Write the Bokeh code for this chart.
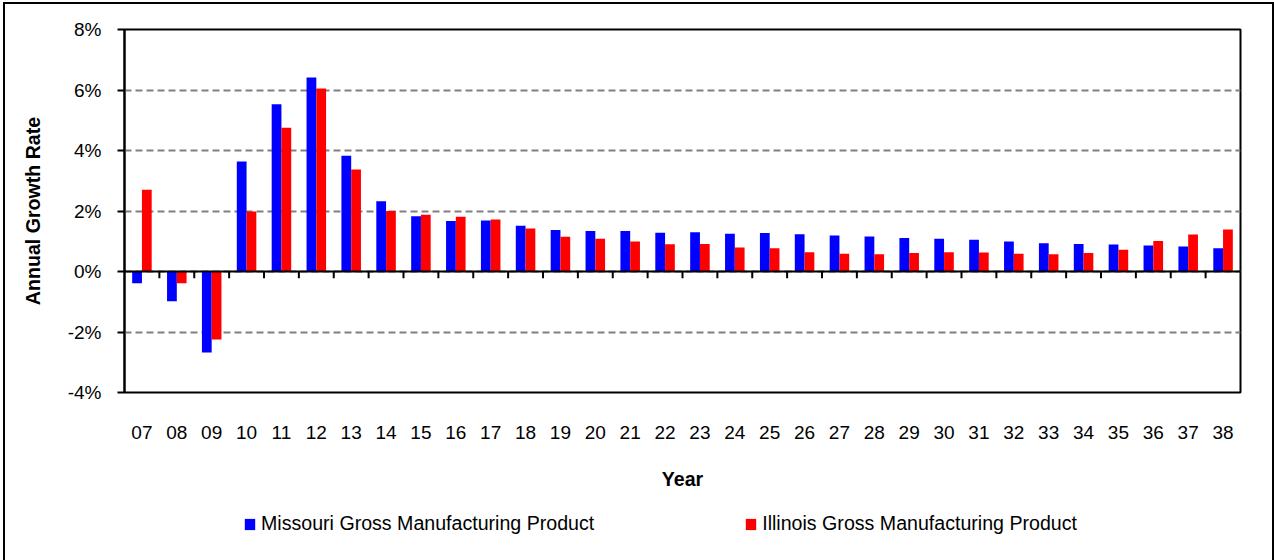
from bokeh.plotting import figure
from bokeh.layouts import column
from bokeh.models import (FactorRange, Range1d, FixedTicker, PrintfTickFormatter,
                          Span, Legend, LegendItem, ColumnDataSource)
from bokeh.transform import dodge
from bokeh.embed import file_html
from bokeh.resources import INLINE

years = ["07", "08", "09", "10", "11", "12", "13", "14", "15", "16", "17", "18", "19",
         "20", "21", "22", "23", "24", "25", "26", "27", "28", "29", "30", "31", "32",
         "33", "34", "35", "36", "37", "38"]
missouri = [-0.39, -0.98, -2.68, 3.64, 5.53, 6.41, 3.83, 2.32, 1.83, 1.67, 1.69, 1.51,
            1.37, 1.34, 1.34, 1.28, 1.30, 1.25, 1.27, 1.23, 1.19, 1.16, 1.11, 1.08,
            1.05, 0.99, 0.93, 0.91, 0.89, 0.86, 0.83, 0.77]
illinois = [2.70, -0.39, -2.25, 1.98, 4.75, 6.05, 3.37, 2.00, 1.88, 1.81, 1.72, 1.42,
            1.15, 1.08, 0.99, 0.90, 0.91, 0.79, 0.77, 0.64, 0.59, 0.57, 0.61, 0.64,
            0.63, 0.59, 0.57, 0.61, 0.72, 1.01, 1.22, 1.39]
series_names = ["Missouri Gross Manufacturing Product", "Illinois Gross Manufacturing Product"]
series_colors = ["#0000FF", "#FF0000"]
y_ticks = [-4, -2, 0, 2, 4, 6, 8]

FONT = "Liberation Sans"
FS = "19px"
FL = "19.6px"
W = 1267

src = ColumnDataSource(dict(years=years, mo=missouri, il=illinois))
bsrc = ColumnDataSource(dict(b=years[:-1], y0=[0] * (len(years) - 1),
                             y1=[-0.22] * (len(years) - 1)))

p = figure(width=W, height=496, output_backend="svg", toolbar_location=None,
           x_range=FactorRange(*years, range_padding=0), y_range=Range1d(-4, 8),
           min_border_left=119, min_border_right=32, min_border_top=25,
           min_border_bottom=108)

p.outline_line_color = "black"
p.outline_line_width = 2

rb = p.vbar(x=dodge("years", -0.14, range=p.x_range), top="mo", bottom=0, width=0.28,
            source=src, fill_color=series_colors[0], line_color=None)
rr = p.vbar(x=dodge("years", 0.14, range=p.x_range), top="il", bottom=0, width=0.28,
            source=src, fill_color=series_colors[1], line_color=None)

p.add_layout(Span(location=0, dimension="width", line_color="black", line_width=2))
p.segment(x0=dodge("b", 0.5, range=p.x_range), x1=dodge("b", 0.5, range=p.x_range),
          y0="y0", y1="y1", source=bsrc, line_color="black", line_width=2)

# grid
p.xgrid.grid_line_color = None
p.ygrid.ticker = FixedTicker(ticks=y_ticks)
p.ygrid.grid_line_color = "#808080"
p.ygrid.grid_line_dash = "7 4"
p.ygrid.grid_line_width = 2

# y axis
p.yaxis.ticker = FixedTicker(ticks=y_ticks)
p.yaxis.formatter = PrintfTickFormatter(format="%d%%")
p.yaxis.axis_line_color = "black"
p.yaxis.axis_line_width = 2
p.yaxis.major_tick_out = 7
p.yaxis.major_tick_in = 0
p.yaxis.major_tick_line_width = 2
p.yaxis.minor_tick_line_color = None
p.yaxis.major_label_text_font = FONT
p.yaxis.major_label_text_font_size = FS
p.yaxis.major_label_text_color = "black"
p.yaxis.major_label_standoff = 16
p.yaxis.axis_label = "Annual Growth Rate"
p.yaxis.axis_label_text_font = FONT
p.yaxis.axis_label_text_font_style = "bold"
p.yaxis.axis_label_text_font_size = FL
p.yaxis.axis_label_text_color = "black"
p.yaxis.axis_label_standoff = 21

# x axis
p.xaxis.axis_line_color = None
p.xaxis.major_tick_line_color = None
p.xaxis.major_tick_out = 0
p.xaxis.major_tick_in = 0
p.xaxis.minor_tick_line_color = None
p.xaxis.major_label_text_font = FONT
p.xaxis.major_label_text_font_size = FS
p.xaxis.major_label_text_color = "black"
p.xaxis.major_label_standoff = 33
p.xaxis.axis_label = "Year"
p.xaxis.axis_label_text_font = FONT
p.xaxis.axis_label_text_font_style = "bold"
p.xaxis.axis_label_text_font_size = FL
p.xaxis.axis_label_text_color = "black"
p.xaxis.axis_label_standoff = 26

# legend strip (same series drawn out of its visible y range; only the legend shows)
p2 = figure(width=W, height=60, output_backend="svg", toolbar_location=None,
            x_range=p.x_range, y_range=Range1d(50, 51),
            x_axis_type=None, y_axis_type=None, min_border=0)
p2.outline_line_color = None
p2.grid.grid_line_color = None
l1 = p2.vbar(x=dodge("years", -0.14, range=p.x_range), top="mo", bottom=0, width=0.28,
             source=src, fill_color=series_colors[0], line_color=None)
l2 = p2.vbar(x=dodge("years", 0.14, range=p.x_range), top="il", bottom=0, width=0.28,
             source=src, fill_color=series_colors[1], line_color=None)
legend = Legend(items=[LegendItem(label=series_names[0], renderers=[l1]),
                       LegendItem(label=series_names[1], renderers=[l2])],
                orientation="horizontal", location=(119, 25), spacing=150,
                glyph_width=13, glyph_height=14, label_standoff=5, padding=0, margin=0,
                border_line_color=None, background_fill_alpha=0,
                label_text_font=FONT, label_text_font_size=FL, label_text_color="black")
p2.add_layout(legend, "center")

layout = column(p, p2, spacing=0)
layout.margin = (2, 0, 0, 3)
layout.styles = {"border-left": "2px solid black", "border-top": "2px solid black",
                 "border-right": "2px solid black"}

open("out.html", "w").write(file_html(layout, INLINE))
